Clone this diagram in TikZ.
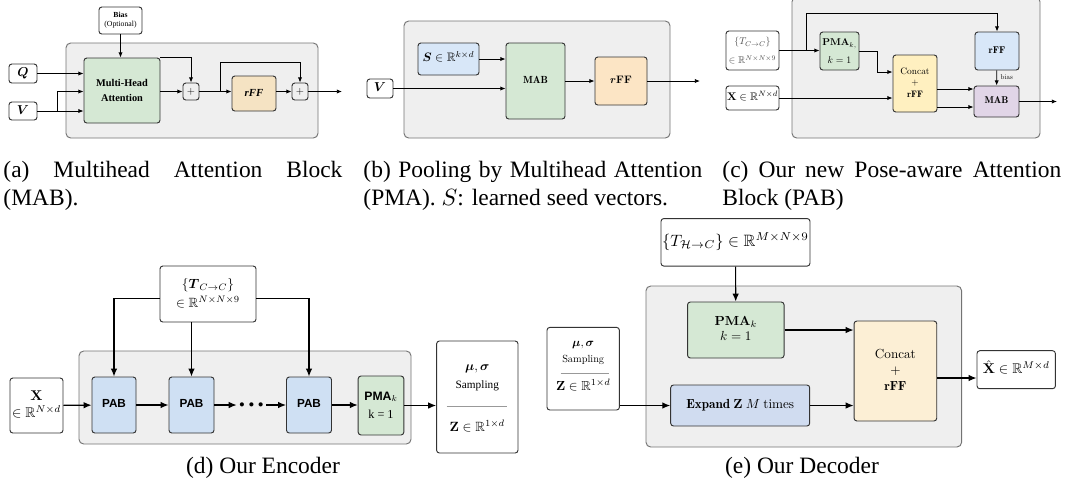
\documentclass[tikz,border=0pt]{standalone}
\usepackage{amssymb}
\usepackage{amsmath}
\usepackage{graphicx}
\usepackage[no-math]{fontspec}
\setmainfont{Liberation Serif}
\setsansfont{Liberation Sans}
\usepackage{tikz}
\usetikzlibrary{arrows.meta,calc,positioning}
\definecolor{panelgray}{HTML}{EFEFEF}
\definecolor{cgreen}{HTML}{D5E8D4}
\definecolor{ctan}{HTML}{F5E3C3}
\definecolor{corange}{HTML}{FCE5C5}
\definecolor{cyellow}{HTML}{FFF0C0}
\definecolor{cblue}{HTML}{D8E7F8}
\definecolor{cpab}{HTML}{CFE0F3}
\definecolor{cexpand}{HTML}{D0DCF0}
\definecolor{cpeach}{HTML}{FCEFD5}
\definecolor{cpurple}{HTML}{E1D5E7}
\tikzset{%
	panel/.style    = {draw=black!55, fill=panelgray, rounded corners=2pt, line width=0.4pt},
	blk/.style      = {draw=black!80, rounded corners=1.2pt, inner sep=0pt, line width=0.4pt},
	sz/.style 2 args = {minimum width=#1*0.426pt, minimum height=#2*0.426pt},
	arr/.style      = {-{Latex[length=3.4pt,width=2.8pt]}, line width=0.5pt},
	arrs/.style     = {-{Latex[length=2.2pt,width=1.8pt]}, line width=0.35pt},
	sepline/.style  = {draw=black!40, line width=0.3pt},
}
\newcommand{\lmfont}{\fontfamily{lmr}\selectfont}
% label set at 10pt and scaled: [row stretch]{scale}{font}{rows}
\newcommand{\lbl}[4][1]{\scalebox{#2}{#3\renewcommand{\arraystretch}{#1}\begin{tabular}{@{}c@{}}#4\end{tabular}}}
\newcommand{\subcap}[1]{\parbox[t]{144.4pt}{\tolerance=10000\hyphenpenalty=10000 #1}}

\begin{document}
\begin{tikzpicture}[x=0.426pt, y=-0.426pt]
		\useasboundingbox (0,0) rectangle (1065,492);
		
		% (a) MAB
		\draw[panel] (66,43) rectangle (318,138);
		\node[blk, sz={43}{27}] (biasA) at (120.5,20.5) {\lbl[0.96]{0.33}{}{\textbf{Bias}\\(Optional)}};
		\node[blk, fill=cgreen, sz={76}{65}] (mha) at (122,90.5) {\lbl[1.21]{0.44}{\bfseries}{Multi-Head\\Attention}};
		\node[blk, sz={28}{19}] (qA) at (23,73.5) {\lbl{0.55}{}{$\boldsymbol{Q}$}};
		\node[blk, sz={28}{18}] (vA) at (23,111) {\lbl{0.55}{}{$\boldsymbol{V}$}};
		\node[blk, sz={16}{17}] (plusA1) at (191,91.5) {\lbl{0.45}{}{$+$}};
		\node[blk, fill=ctan, sz={44}{35}] (rffA) at (254,93.5) {\lbl{0.46}{\bfseries\itshape}{rFF}};
		\node[blk, sz={16}{17}] (plusA2) at (300,91.5) {\lbl{0.45}{}{$+$}};
		\coordinate (outA) at (342,91.5);
		\coordinate (vsplitA) at (57,111);
		\coordinate (splitA) at (220,91.5);
		
		\draw[arrs] (biasA) -- (biasA |- mha.north);
		\draw[arrs] (qA) -- (mha.west |- qA);
		\draw[arrs] (vA) -- (mha.west |- vA);
		\draw[arrs] (vsplitA) |- (mha.west |- plusA1);
		\draw[arrs] (mha.east |- plusA1) -- (plusA1);
		\draw[arrs] (mha.north east) -| (plusA1);
		\draw[arrs] (plusA1) -- (rffA.west |- plusA1);
		\draw[arrs] (splitA) -- (splitA |- 0,62) -| (plusA2);
		\draw[arrs] (rffA.east |- plusA2) -- (plusA2);
		\draw[arrs] (plusA2) -- (outA);
		
		% (b) PMA
		\draw[panel] (404,21) rectangle (670,138);
		\node[blk, fill=cblue, sz={61}{32}] (sB) at (448.5,59) {\lbl{0.52}{}{$\boldsymbol{S}\in\mathbb{R}^{k\times d}$}};
		\node[blk, fill=cgreen, sz={59}{76}] (mabB) at (535.5,81) {\lbl{0.44}{\lmfont\bfseries}{MAB}};
		\node[blk, fill=corange, sz={52}{48}] (rffB) at (621,81) {\lbl{0.46}{}{$\boldsymbol{r}\mathbf{FF}$}};
		\node[blk, sz={26}{19}] (vB) at (380,88.5) {\lbl{0.55}{}{$\boldsymbol{V}$}};
		\coordinate (outB) at (700,81);
		
		\draw[arrs] (sB) -- (mabB.west |- sB);
		\draw[arrs] (vB) -- (mabB.west |- vB);
		\draw[arrs] (mabB) -- (rffB);
		\draw[arrs] (rffB) -- (outB);
		
		% (c) PAB
		\draw[panel] (792,-3) rectangle (1040,138);
		\node[blk, sz={53}{39}, text=black!70] (tC) at (752.5,50.5) {\lbl[1.59]{0.42}{}{$\{T_{C\to C}\}$\\$\in\mathbb{R}^{N\times N\times 9}$}};
		\node[blk, sz={53}{24}] (xC) at (752.5,98) {\lbl{0.47}{}{$\mathbf{X}\in\mathbb{R}^{N\times d}$}};
		\node[blk, fill=cgreen, sz={39}{38}] (pmaC) at (839.5,51) {\lbl[1.49]{0.42}{}{$\mathbf{PMA}_{k,}$\\$k=1$}};
		\node[blk, fill=cyellow, sz={44}{57}] (catC) at (915,83.5) {\lbl[1.0]{0.4}{\lmfont}{Concat\\$+$\\\textbf{rFF}}};
		\node[blk, fill=cblue, sz={44}{38}] (rffC) at (997,51) {\lbl{0.42}{\lmfont\bfseries}{rFF}};
		\node[blk, fill=cpurple, sz={45}{31}] (mabC) at (996.5,101.5) {\lbl{0.42}{\lmfont\bfseries}{MAB}};
		\coordinate (outC) at (1057,101.5);
		\coordinate (splitC) at (806,50.5);
		\coordinate (topC) at (997,13);
		\coordinate (bendC) at (877,72);
		
		\draw[arrs] (tC) -- (pmaC.west |- tC);
		\draw[arrs] (splitC) |- (topC) -- (rffC);
		\draw[arrs] (pmaC) -| (bendC) -- (catC.west |- bendC);
		\draw[arrs] (xC) -- (catC.west |- xC);
		\draw[arrs] (catC.east |- 0,89) -- (mabC.west |- 0,89);
		\draw[arrs] (catC.east |- 0,107) -- (mabC.west |- 0,107);
		\draw[arrs] (rffC) -- node[right, inner sep=1.5pt] (biasC) {\lbl{0.3}{\lmfont}{bias}} (mabC);
		\draw[arrs] (mabC) -- (outC);
		
		% (d) encoder
		\draw[panel] (79,351) rectangle (411,444);
		\node[blk, sz={96}{56}] (tD) at (208,294) {\lbl[1.17]{0.57}{}{$\{\boldsymbol{T}_{C\to C}\}$\\$\in\mathbb{R}^{N\times N\times 9}$}};
		\node[blk, sz={53}{55}] (xD) at (36.5,405.5) {\lbl[0.98]{0.6}{}{$\mathbf{X}$\\$\in\mathbb{R}^{N\times d}$}};
		\node[blk, fill=cpab, sz={44}{56}] (pab1) at (114,405) {\lbl{0.5}{\sffamily\bfseries}{PAB}};
		\node[blk, fill=cpab, sz={45}{56}] (pab2) at (191.5,405) {\lbl{0.5}{\sffamily\bfseries}{PAB}};
		\node[inner sep=1pt] (dotsD) at (251.5,405) {\lbl{0.45}{}{$\bullet\,\bullet\,\bullet$}};
		\node[blk, fill=cpab, sz={45}{56}] (pab3) at (309,405) {\lbl{0.5}{\sffamily\bfseries}{PAB}};
		\node[blk, fill=cgreen, sz={45.6}{59}] (pmaD) at (381,405.5) {\lbl[1.22]{0.52}{}{{\sffamily\bfseries PMA}$_k$\\k = 1}};
		\node[blk, sz={81.4}{112}] (msD) at (477.3,397) {};
		\node[inner sep=0pt] (muD) at (477.3,367) {\lbl{0.55}{}{$\boldsymbol{\mu},\boldsymbol{\sigma}$}};
		\node[inner sep=0pt] (sampD) at (477.3,386) {\lbl{0.48}{}{Sampling}};
		\draw[sepline] (446.6,406) -- (507,406);
		\node[inner sep=0pt] (zD) at (477.3,428) {\lbl{0.57}{}{$\mathbf{Z}\in\mathbb{R}^{1\times d}$}};
		
		\draw[arr] (xD) -- (pab1);
		\draw[arr] (pab1) -- (pab2);
		\draw[arr] (pab2) -- (dotsD);
		\draw[arr] (dotsD) -- (pab3);
		\draw[arr] (pab3) -- (pmaD.west |- pab3);
		\draw[arr] (pmaD.east) -- (msD.west |- pmaD.east);
		\draw[arr] ([yshift=-2pt]tD.west) -| (pab1);
		\draw[arr] (tD.south -| pab2) -- (pab2);
		\draw[arr] ([yshift=-2pt]tD.east) -| (pab3);
		
		% (e) decoder
		\draw[panel] (646,286) rectangle (961.6,447);
		\node[blk, sz={149}{47.5}] (tE) at (735.5,242.3) {\lbl{0.7}{}{$\{T_{\mathcal{H}\to C}\}\in\mathbb{R}^{M\times N\times 9}$}};
		\node[blk, fill=cgreen, sz={96.5}{56}] (pmaE) at (735.8,330) {\lbl[0.95]{0.56}{}{$\mathbf{PMA}_k$\\$k=1$}};
		\node[blk, fill=cexpand, sz={139}{41}] (expE) at (740.2,405.5) {\lbl{0.56}{}{{\lmfont\bfseries Expand} $\mathbf{Z}$ $M$ {\lmfont times}}};
		\node[blk, fill=cpeach, sz={82.7}{100}] (catE) at (895.4,371) {\lbl[1.01]{0.56}{\lmfont}{Concat\\$+$\\\textbf{rFF}}};
		\node[blk, sz={72.4}{82.6}] (msE) at (583.2,368.7) {};
		\node[inner sep=0pt] (muE) at (583.2,343.8) {\lbl{0.5}{}{$\boldsymbol{\mu},\boldsymbol{\sigma}$}};
		\node[inner sep=0pt] (sampE) at (583.2,359.8) {\lbl{0.44}{\lmfont}{Sampling}};
		\draw[sepline] (560.7,373.8) -- (608.5,373.8);
		\node[inner sep=0pt] (zE) at (583.2,387) {\lbl{0.56}{}{$\mathbf{Z}\in\mathbb{R}^{1\times d}$}};
		\node[blk, sz={78.4}{38}] (xhE) at (1016.2,369.7) {\lbl{0.6}{}{$\hat{\mathbf{X}}\in\mathbb{R}^{M\times d}$}};
		
		\draw[arr] (tE) -- (pmaE);
		\draw[arr] (pmaE) -- (catE.west |- pmaE);
		\draw[arr] (msE.east |- expE) -- (expE);
		\draw[arr] (expE) -- (catE.west |- expE);
		\draw[arr] (catE.east |- 0,378) -- (xhE.west |- 0,378);
		
		% captions
		\node[anchor=base west, inner sep=0pt] (capA) at (3,177) {\subcap{(a) Multihead Attention Block (MAB).}};
		\node[anchor=base west, inner sep=0pt] (capB) at (363,177) {\subcap{(b) Pooling by Multihead Attention (PMA). $S$: learned seed vectors.}};
		\node[anchor=base west, inner sep=0pt] (capC) at (722,177) {\subcap{(c) Our new Pose-aware Attention Block (PAB)}};
		\node[anchor=base] (capD) at (263,473) {(d) Our Encoder};
		\node[anchor=base] (capE) at (802,473) {(e) Our Decoder};
\end{tikzpicture}
\end{document}
